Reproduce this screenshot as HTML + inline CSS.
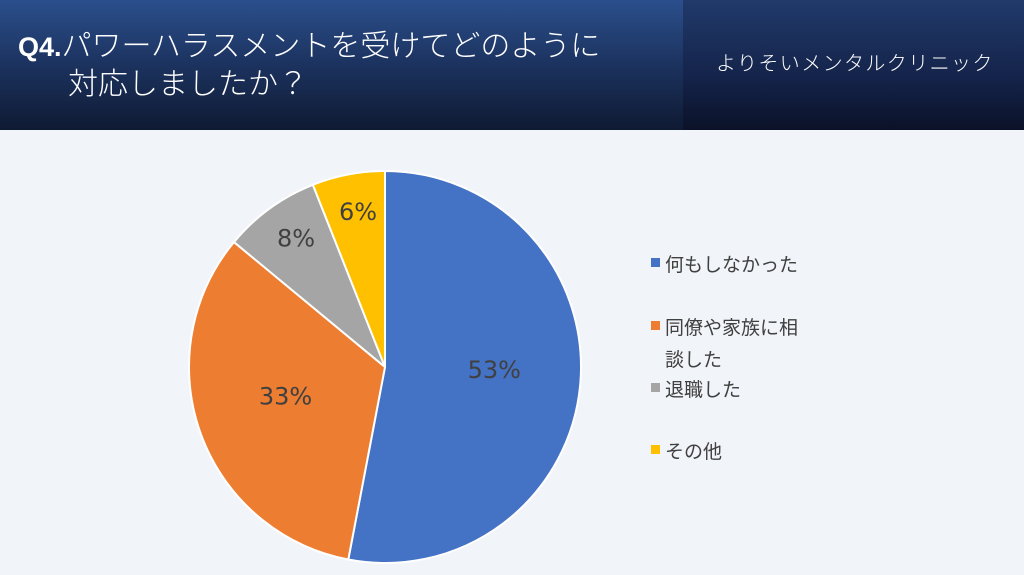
<!DOCTYPE html>
<html><head><meta charset="utf-8"><style>
html,body{margin:0;padding:0}
body{width:1024px;height:575px;overflow:hidden;background:#f1f4f8;position:relative;font-family:"Liberation Sans","Noto Sans CJK JP",sans-serif}
#hdr{position:absolute;left:0;top:0;width:1024px;height:130px;background:linear-gradient(180deg,#2b4f8c 0%,#1d3563 45%,#0f1a33 100%)}
#hdr-right{position:absolute;left:683px;top:0;width:341px;height:130px;background:linear-gradient(180deg,#213a6a 0%,#14234a 60%,#0b1228 100%)}
.t{position:absolute;color:#fff;white-space:nowrap}
.leg{position:absolute;font-size:19px;color:#404040;white-space:nowrap}
.sq{position:absolute;width:9px;height:9px}
</style></head><body>
<div id="hdr"></div>
<div id="hdr-right"></div>
<div class="t" style="left:18px;top:28px;font-size:30px;line-height:38px;font-weight:300"><span style="font-size:27px;font-weight:700;font-family:'Liberation Sans',sans-serif">Q4.</span>パワーハラスメントを受けてどのように<br><span style="padding-left:50px">対応しましたか？</span></div>
<div class="t" style="left:716px;top:47px;font-size:20px;letter-spacing:1.4px;font-weight:300">よりそいメンタルクリニック</div>
<svg id="pie" width="1024" height="575" style="position:absolute;left:0;top:0"></svg>
<div class="sq" style="left:651px;top:258px;background:#4472c4"></div>
<div class="leg" style="left:665px;top:250px">何もしなかった</div>
<div class="sq" style="left:651px;top:321px;background:#ed7d31"></div>
<div class="leg" style="left:665px;top:313px;line-height:32px">同僚や家族に相<br>談した</div>
<div class="sq" style="left:651px;top:383px;background:#a5a5a5"></div>
<div class="leg" style="left:665px;top:375px">退職した</div>
<div class="sq" style="left:651px;top:445px;background:#ffc000"></div>
<div class="leg" style="left:665px;top:437px">その他</div>
<script>
const categories=["何もしなかった","同僚や家族に相談した","退職した","その他"];
const values=[53,33,8,6];
const colors=["#4472c4","#ed7d31","#a5a5a5","#ffc000"];
const cx=385,cy=367,r=196;
const svg=document.getElementById('pie');
const NS="http://www.w3.org/2000/svg";
const total=values.reduce((a,b)=>a+b,0);
let a0=0;
values.forEach((v,i)=>{
  const a1=a0+v/total*2*Math.PI;
  const p=t=>[cx+r*Math.sin(t),cy-r*Math.cos(t)];
  const [x0,y0]=p(a0),[x1,y1]=p(a1);
  const path=document.createElementNS(NS,'path');
  path.setAttribute('d',`M${cx},${cy}L${x0},${y0}A${r},${r} 0 ${a1-a0>Math.PI?1:0} 1 ${x1},${y1}Z`);
  path.setAttribute('fill',colors[i]);path.setAttribute('stroke','#fff');path.setAttribute('stroke-width','2');
  
  
  svg.appendChild(path);
  const am=(a0+a1)/2, lr=v<10?r*0.79:r*0.55;
  const tx=document.createElementNS(NS,'text');
  tx.setAttribute('x',cx+lr*Math.sin(am)+2);tx.setAttribute('y',cy-lr*Math.cos(am)+(v<10?5:1));
  tx.setAttribute('text-anchor','middle');tx.setAttribute('font-size','24');tx.setAttribute('fill','#404040');
  tx.setAttribute('font-family','"DejaVu Sans","Liberation Sans",sans-serif');
  tx.textContent=v+'%';
  
  
  svg.appendChild(tx);
  a0=a1;
});
</script>
</body></html>
